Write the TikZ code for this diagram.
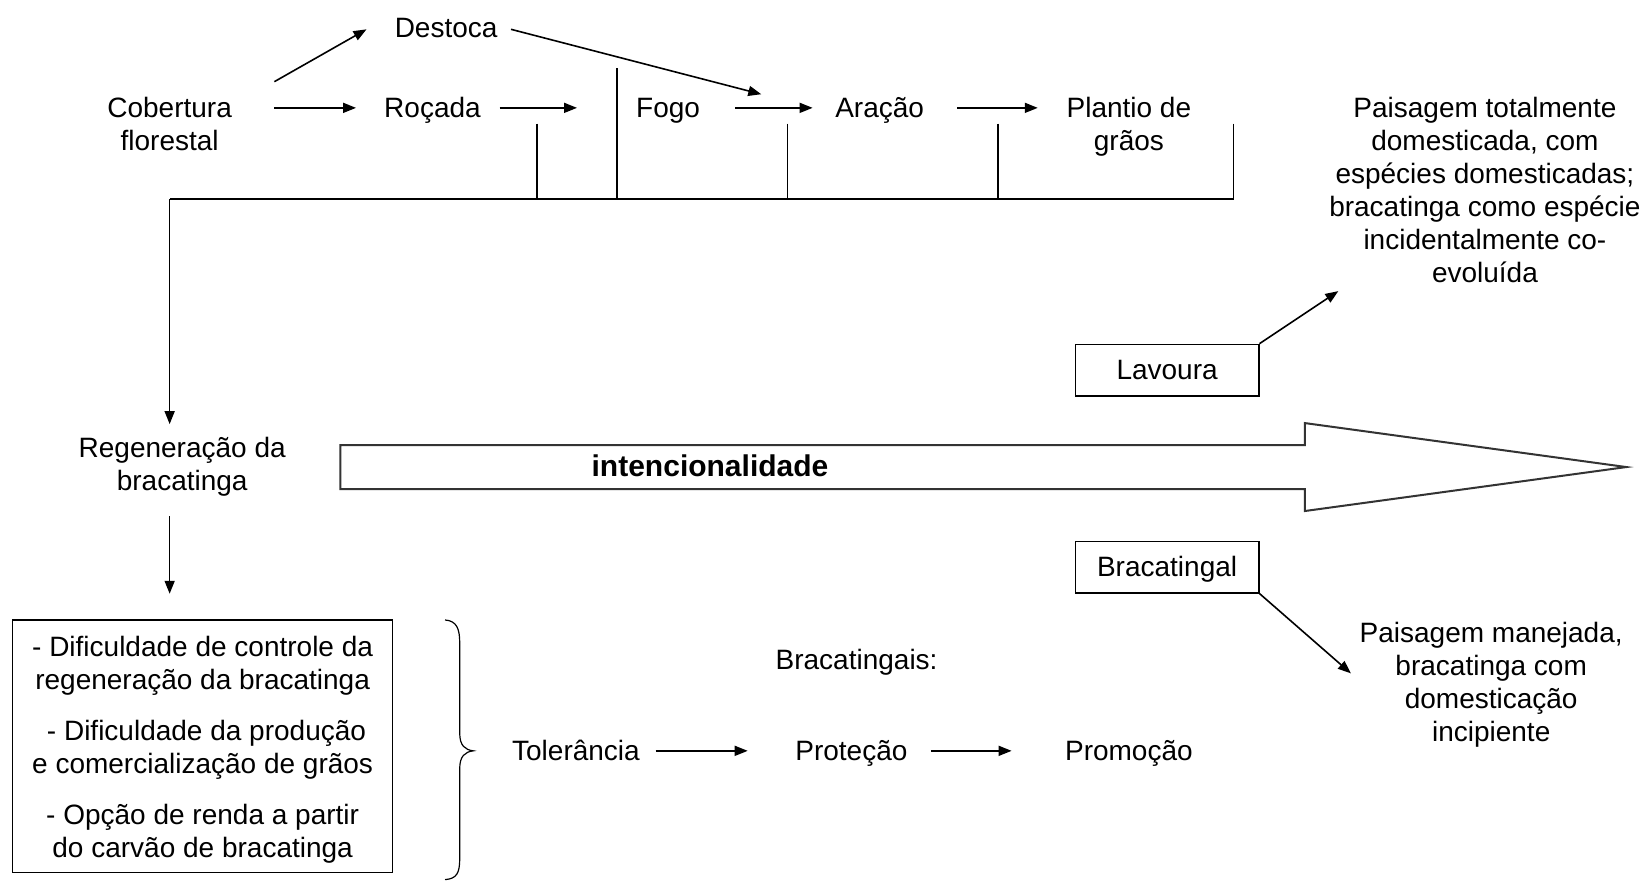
\documentclass[tikz,border=0pt]{standalone}
\usepackage{fontspec}
\setmainfont{Liberation Sans}
\usetikzlibrary{arrows.meta}
\begin{document}
\begin{tikzpicture}[x=0.5236pt,y=-0.5236pt,
  font=\fontsize{14}{16.5}\selectfont,
  txt/.style={align=center, inner sep=0pt},
  one/.style={inner sep=0pt, text height=11.4pt, text depth=1.8pt},
  ln/.style={line width=0.8pt},
  arr/.style={line width=0.8pt, -{Triangle[length=6.5pt,width=5pt]}},
  boxed/.style={draw, line width=0.8pt, inner sep=0pt, align=center}]
\useasboundingbox (0,0) rectangle (1568,842);
% top row
\node[txt] (cob) at (162,118) {Cobertura\\florestal};
\node[one] (des) at (426,27) {Destoca};
\node[one] (roc) at (413,103) {Roçada};
\node[one] (fogo) at (638,103) {Fogo};
\node[one] (ara) at (840,103) {Aração};
\node[txt] (pla) at (1078,121) {Plantio de\\grãos};
% arrow end points
\coordinate (c1) at (262,103); \coordinate (c2) at (340,103);
\coordinate (c3) at (477,103); \coordinate (c4) at (551,103);
\coordinate (c5) at (702,103); \coordinate (c6) at (776,103);
\coordinate (c7) at (914,103); \coordinate (c8) at (991,103);
\coordinate (d1) at (262,78); \coordinate (d2) at (350,28);
\coordinate (d3) at (488,28); \coordinate (d4) at (727,90);
\draw[arr] (c1) -- (c2);
\draw[arr] (c3) -- (c4);
\draw[arr] (c5) -- (c6);
\draw[arr] (c7) -- (c8);
\draw[arr] (d1) -- (d2);
\draw[arr] (d3) -- (d4);
% bracket lines
\coordinate (h0) at (162,190); \coordinate (h5) at (1178,190);
\coordinate (v1t) at (513,118); \coordinate (v1b) at (513,190);
\coordinate (v2t) at (589,65);  \coordinate (v2b) at (589,190);
\coordinate (v3t) at (752,118); \coordinate (v3b) at (752,190);
\coordinate (v4t) at (953,118); \coordinate (v4b) at (953,190);
\coordinate (v5t) at (1178,118);
\draw[ln] (v1t) -- (v1b);
\draw[ln] (v2t) -- (v2b);
\draw[ln] (v3t) -- (v3b);
\draw[ln] (v4t) -- (v4b);
\draw[ln] (v5t) -- (h5) -- (h0);
% regeneration
\node[txt] (reg) at (174,446) {Regeneração da\\bracatinga};
\coordinate (r1) at (162,405);
\draw[arr] (h0) -- (r1);
\coordinate (r2) at (162,493); \coordinate (r3) at (162,567);
\draw[arr] (r2) -- (r3);
% box
\node[boxed, minimum width=190pt, minimum height=126.2pt] (box) at (193.5,712.5) {};
\node[txt] (boxt) at (193.5,716) 
  {- Dificuldade de controle da\\regeneração da bracatinga\\[9.2pt]
   \ - Dificuldade da produção\\e comercialização de grãos\\[9.2pt]
   - Opção de renda a partir\\do carvão de bracatinga};
% brace
\draw[line width=0.6pt] (425,592) .. controls (436,593) and (439,600) .. (439,614)
  -- (439,700) .. controls (439,712) and (444,716) .. (452,717)
  .. controls (444,718) and (439,722) .. (439,734)
  -- (439,820) .. controls (439,834) and (436,839) .. (425,840);
% bracatingais row
\node[one] (brs) at (818,630) {Bracatingais:};
\node[one] (tol) at (550,717) {Tolerância};
\node[one] (pro) at (813,717) {Proteção};
\node[one] (prm) at (1078,717) {Promoção};
\coordinate (t1) at (626,717); \coordinate (t2) at (714,717);
\coordinate (t3) at (889,717); \coordinate (t4) at (966,717);
\draw[arr] (t1) -- (t2);
\draw[arr] (t3) -- (t4);
% big arrow
\draw[line width=1pt, draw=black!80] (325,425) -- (1246,425) -- (1246,404) -- (1553,446)
  -- (1246,488) -- (1246,467) -- (325,467) -- cycle;
\node[one, font=\fontsize{15}{17}\selectfont\bfseries] (int) at (678,446) {intencionalidade};
% right side
\node[boxed, minimum width=91.6pt, minimum height=25.7pt, text height=11.4pt, text depth=1.8pt] (lav) at (1114.5,353.5) {Lavoura};
\node[boxed, minimum width=91.6pt, minimum height=25.7pt, text height=11.4pt, text depth=1.8pt] (bcl) at (1114.5,541.5) {Bracatingal};
\node[txt] (pt) at (1418,181) {Paisagem totalmente\\domesticada, com\\espécies domesticadas;\\bracatinga como espécie\\incidentalmente co-\\evoluída};
\node[txt] (pm) at (1424,654) {Paisagem manejada,\\bracatinga com\\domesticação\\incipiente};
\coordinate (l2) at (1278,278);
\coordinate (b2) at (1290,643);
\draw[arr] (lav.north east) -- (l2);
\draw[arr] (bcl.south east) -- (b2);
\end{tikzpicture}
\end{document}
